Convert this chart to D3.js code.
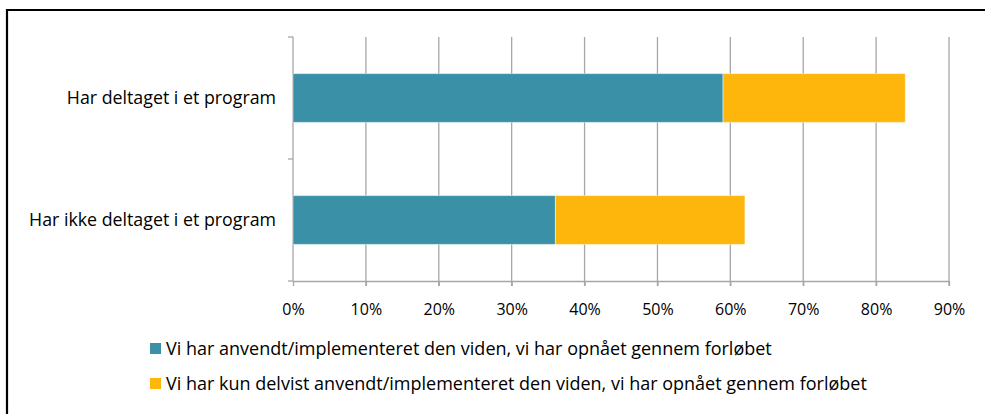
<!DOCTYPE html>
<html>
<head>
<meta charset="utf-8">
<script src="https://cdn.jsdelivr.net/npm/d3@7"></script>
<style>
  html, body { margin: 0; padding: 0; background: #fff; }
  svg { display: block; font-family: "Open Sans", "Noto Sans", sans-serif; }
</style>
</head>
<body>
<div id="chart"></div>
<script>
// chart data
const categories = ['Har deltaget i et program', 'Har ikke deltaget i et program'];
const seriesNames = [
  'Vi har anvendt/implementeret den viden, vi har opnået gennem forløbet',
  'Vi har kun delvist anvendt/implementeret den viden, vi har opnået gennem forløbet'
];
const applied = [59, 36];
const partly = [25, 26];
const xTicks = [0, 10, 20, 30, 40, 50, 60, 70, 80, 90];
const seriesColors = ['#3a91a7', '#ffb60c'];

const W = 985, H = 414;
const margin = { left: 293, right: 36, top: 37, bottom: 133 };

const svg = d3.select('#chart').append('svg')
  .attr('width', W).attr('height', H);

// outer frame (runs off the right and bottom of the picture)
svg.append('path')
  .attr('d', `M7,${H + 5} V10 H${W + 5}`)
  .attr('fill', 'none').attr('stroke', '#000').attr('stroke-width', 2.2);

const x = d3.scaleLinear().domain([0, 90]).range([margin.left, W - margin.right]);
const y = d3.scaleBand().domain(categories)
  .range([margin.top, H - margin.bottom]).paddingInner(0.6).paddingOuter(0.3);

const rows = categories.map((c, i) => ({ cat: c, vals: [applied[i], partly[i]] }));
const stacked = d3.stack().keys([0, 1]).value((d, k) => d.vals[k])(rows);

// gridlines
svg.append('g').selectAll('line').data(xTicks.slice(1)).join('line')
  .attr('x1', d => x(d)).attr('x2', d => x(d))
  .attr('y1', margin.top).attr('y2', H - margin.bottom + 5)
  .attr('stroke', '#a6a6a6').attr('stroke-width', 1.3);

// x axis
const xAxis = svg.append('g')
  .attr('transform', `translate(0,${H - margin.bottom})`)
  .call(d3.axisBottom(x).tickValues(xTicks).tickFormat(d => d + '%').tickSize(5).tickSizeOuter(0));
xAxis.select('.domain').attr('stroke', '#a6a6a6').attr('stroke-width', 1.3);
xAxis.selectAll('.tick line').attr('stroke', '#a6a6a6').attr('stroke-width', 1.3);
xAxis.selectAll('.tick text')
  .attr('y', 22.5).attr('font-size', 16).attr('fill', '#000')
  .attr('font-family', '"Open Sans", sans-serif');

// y axis
const bandEdges = [margin.top, (margin.top + H - margin.bottom) / 2, H - margin.bottom];
const yAxisG = svg.append('g');
yAxisG.append('line')
  .attr('x1', x(0)).attr('x2', x(0))
  .attr('y1', margin.top).attr('y2', H - margin.bottom)
  .attr('stroke', '#a6a6a6').attr('stroke-width', 1.3);
yAxisG.selectAll('line.tk').data(bandEdges).join('line').attr('class', 'tk')
  .attr('x1', x(0) - 5).attr('x2', x(0))
  .attr('y1', d => d).attr('y2', d => d)
  .attr('stroke', '#a6a6a6').attr('stroke-width', 1.3);
yAxisG.selectAll('text').data(categories).join('text')
  .attr('x', x(0) - 17)
  .attr('y', d => y(d) + y.bandwidth() / 2 + 6)
  .attr('text-anchor', 'end')
  .attr('font-size', 17.8)
  .attr('fill', '#000')
  .text(d => d);

// bars
svg.append('g').selectAll('g').data(stacked).join('g')
  .attr('fill', (d, i) => seriesColors[i])
  .selectAll('rect').data(d => d).join('rect')
  .attr('x', d => x(d[0]))
  .attr('y', d => y(d.data.cat))
  .attr('width', d => x(d[1]) - x(d[0]))
  .attr('height', y.bandwidth())
  .attr('stroke', 'rgba(255,255,255,0.45)')
  .attr('stroke-width', 1);

// legend
const legend = svg.append('g').selectAll('g').data(seriesNames).join('g')
  .attr('transform', (d, i) => `translate(150,${343 + i * 35})`);
legend.append('rect')
  .attr('width', 11).attr('height', 11)
  .attr('fill', (d, i) => seriesColors[i]);
legend.append('text')
  .attr('x', 16).attr('y', 12)
  .attr('font-size', 18).attr('fill', '#000')
  .text(d => d);
</script>
</body>
</html>
